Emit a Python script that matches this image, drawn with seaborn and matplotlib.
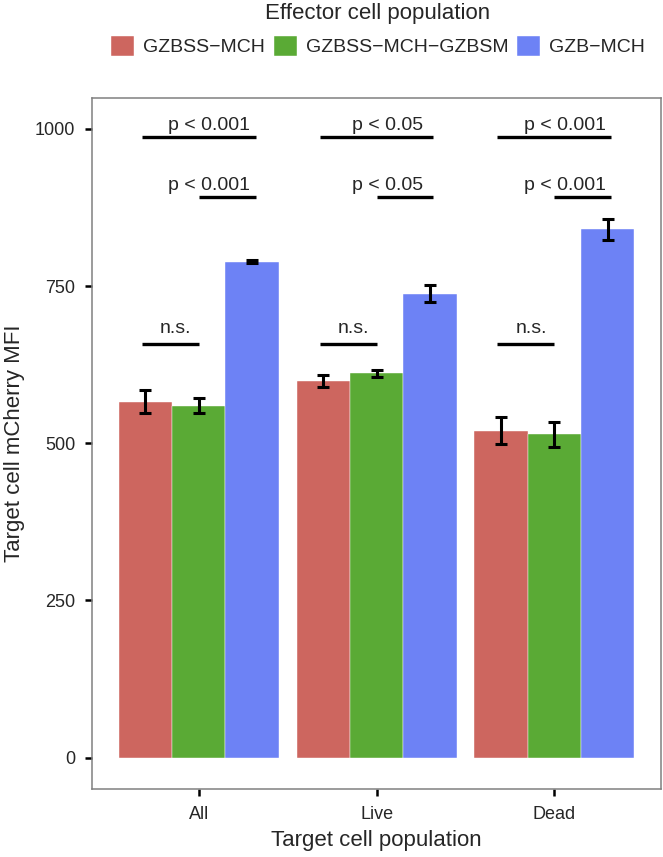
import matplotlib
matplotlib.use("Agg")
import matplotlib.pyplot as plt
from matplotlib.patches import Patch
import seaborn as sns
import pandas as pd

# data
populations = ["All", "Live", "Dead"]
effectors = ["GZBSS\u2212MCH", "GZBSS\u2212MCH\u2212GZBSM", "GZB\u2212MCH"]
mfi_gzbss = [566, 599, 520]
mfi_gzbss_gzbsm = [560, 611, 514]
mfi_gzb = [789, 738, 840]
se_gzbss = [18, 10, 22]
se_gzbss_gzbsm = [12, 5, 20]
se_gzb = [2, 14, 16]

sig_all_vs_gzb = ["p < 0.001", "p < 0.05", "p < 0.001"]
sig_green_vs_gzb = ["p < 0.001", "p < 0.05", "p < 0.001"]
sig_red_vs_green = ["n.s.", "n.s.", "n.s."]
sig_heights = [987, 891, 658]

colors = ["#CD665F", "#5AAA35", "#6D82F5"]

sns.set_theme(style="white")
plt.rcParams["font.family"] = ["Liberation Sans", "DejaVu Sans"]

rows = []
for eff, vals in zip(effectors, [mfi_gzbss, mfi_gzbss_gzbsm, mfi_gzb]):
    for pop, v in zip(populations, vals):
        rows.append({"population": pop, "effector": eff, "mfi": v})
df = pd.DataFrame(rows)

fig = plt.figure(figsize=(6.63, 8.57), dpi=100)
ax = fig.add_axes([0.139, 0.0793, 0.858, 0.8063])

sns.barplot(data=df, x="population", y="mfi", hue="effector", order=populations,
            hue_order=effectors, palette=colors, width=0.9, errorbar=None,
            saturation=1, legend=False, ax=ax, edgecolor="white", linewidth=0.3)

for container, errs in zip(ax.containers, [se_gzbss, se_gzbss_gzbsm, se_gzb]):
    xs = [p.get_x() + p.get_width() / 2 for p in container]
    ys = [p.get_height() for p in container]
    ax.errorbar(xs, ys, yerr=errs, fmt="none", ecolor="black",
                elinewidth=2.2, capsize=4, capthick=2.2, zorder=5)

# significance brackets
for i in range(len(populations)):
    ax.plot([i - 0.32, i + 0.32], [sig_heights[0]] * 2, color="black", lw=2.4,
            solid_capstyle="butt")
    ax.text(i + 0.06, sig_heights[0] + 11, sig_all_vs_gzb[i], ha="center",
            va="baseline", fontsize=14)
    ax.plot([i, i + 0.32], [sig_heights[1]] * 2, color="black", lw=2.4,
            solid_capstyle="butt")
    ax.text(i + 0.06, sig_heights[1] + 11, sig_green_vs_gzb[i], ha="center",
            va="baseline", fontsize=14)
    ax.plot([i - 0.32, i], [sig_heights[2]] * 2, color="black", lw=2.4,
            solid_capstyle="butt")
    ax.text(i - 0.13, sig_heights[2] + 17, sig_red_vs_green[i], ha="center",
            va="baseline", fontsize=14)

ax.set_xlim(-0.6, 2.6)
ax.set_ylim(-50, 1049)
ax.set_yticks([0, 250, 500, 750, 1000])
ax.set_xlabel("Target cell population", fontsize=16, labelpad=5)
ax.set_ylabel("Target cell mCherry MFI", fontsize=16, labelpad=7)
ax.tick_params(axis="both", direction="out", length=5, width=1.8, color="black",
               labelsize=13, pad=7, left=True, bottom=True)
for side in ax.spines.values():
    side.set_color("#808080")
    side.set_linewidth(1.1)
    side.set_visible(True)

handles = [Patch(facecolor=c, edgecolor="white", linewidth=0.3) for c in colors]
fig.legend(handles, effectors, loc="upper center", bbox_to_anchor=(0.57, 1.017),
           ncol=3, frameon=False, title="Effector cell population", fontsize=14,
           title_fontsize=16, handlelength=1.2, handleheight=1.2,
           columnspacing=0.45, handletextpad=0.45, labelspacing=0.6)

fig.savefig("out.png", dpi=100)
